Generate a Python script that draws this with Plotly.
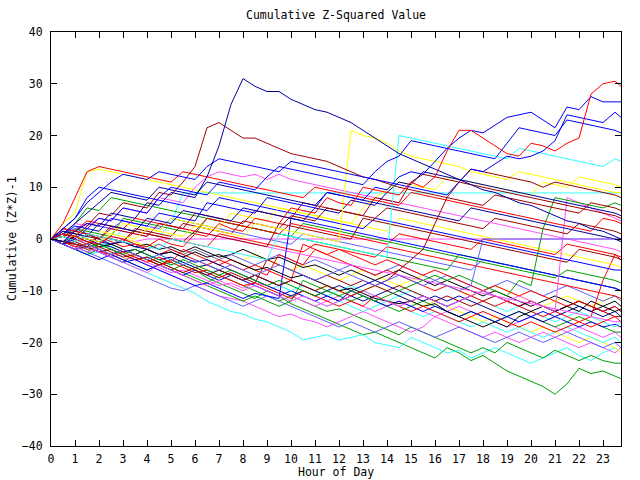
import plotly.graph_objects as go

# Hours of day (half-hour samples, last sample at 23:45)
HOURS = [i * 0.5 for i in range(48)] + [23.75]

R1 = [0,1,0.5,-0.5,-1,0.5,0,-1, -1.5,0,-1,-1.5,1,0.5,3,2, 1.5,4,3.5,3,6,5.5,5,8, 7,6.5,10,9.5,9,8.5,11,10, 12,17,21,21,19.5,18,16.5,16, 18.5,18,17,18.5,19.5,28,30,30.5, 29.5]
DB1 = [0,-0.5,1.5,3,2.5,5,4.5,4, 7,6.5,9,8.5,8,12,18,26, 31,29.5,28.5,28.5,27,26,25,24.5, 23.5,22.5,21,19.5,18,16.5,15.5,14.5, 13.5,12.5,11.5,10.5,9.5,9,8,7, 6.5,5.5,4.5,3.5,3,2,1.5,0.5, 0]
B1 = [0,1,2.5,2,1.5,4,3.5,3, 2.5,5,4.5,4,3.5,7,6.5,6, 5.5,5,8,7.5,7,6.5,6,9, 8.5,8,7.5,10,9.5,12,13,12.5, 15,17.5,19.5,21,20.5,22,23.5,24, 24.5,23,21.5,25.5,25,27.5,26.5,26.5, 26.5]
B2 = [0,-1,0,2,4,3.5,6,5.5, 5,8,10,9.5,9,8.5,11,10.5, 10,9.5,12,14,13.5,13,12.5,12, 11.5,11,10.5,13,15,16,19,18.5, 18,17.5,17,16.5,16,15.5,18.5,21.5, 21,20.5,20,23,22.5,22,21.5,21, 20.5]
B3 = [0,2,4,7,9,11,12.5,12, 11.5,13,12.5,12,11.5,14,15.5,15, 14.5,14,13.5,13,15,14.5,14,13.5, 13,12.5,12,11.5,11,10.5,10,9.5, 9,8.5,11,13.5,13,14.5,16,15.5, 16,17,19,24,23.5,23,22.5,24.5, 23.5]
R2 = [0,3,8,13,14,13.5,13,12.5, 12,11.5,11,13,12.5,12,11.5,11, 10.5,10,9.5,9,8.5,8,10,9.5, 9,8.5,8,7.5,7,6.5,9,8.5, 8,7.5,7,6.5,6,5.5,5,4.5, 4,3.5,3,2.5,2,1.5,4,3.5, 3]
DR1 = [0,1,0.5,2.5,5,4.5,7,6.5, 6,9,8.5,11,14,21.5,22.5,21, 19.5,19.5,18.5,17.5,16.5,16,15.5,15, 14,13,12,11.5,10.8,10,9.5,9, 8.5,8,7.5,7,6.5,8.5,8,7.5, 7,6.5,6,5.5,5,7,6.5,6, 5.5]
Y1 = [0,1,0.5,0,-0.5,1,0.5,0, 2,1.5,1,0.5,2.5,2,1.5,1, 0.5,3,2.5,2,1.5,1,0.5,0, -0.5,21,20,19.5,18.5,17,16,15.5, 15,14.5,14,13,12.5,12,11.5,13, 12.5,12,11.5,11,10.5,10,9.5,9, 9]
C1 = [0,-0.5,-1,0.5,0,-0.5,2,1.5, 1,0.5,3,8.9,8.9,8.9,8.9,8.9, 8.9,8.9,8.9,8.9,8.9,8.9,8.9,8.9, 8.9,8.9,8.9,8.9,8.9,8.9,8.9,8.9, 8.9,8.9,8.9,8.9,8.9,8.9,8.9,8.9, 8.9,8.9,8.9,8.9,8.9,8.9,8.9,8.9, 8.9]
M1 = [0,0.5,0,-0.5,-1,0.5,0,-0.5, 0,0,0,0,0,0,0,0, 0,0,0,0,0,0,0,0, 0,0,0,0,0,0,0,0, 0,0,0,0,0,0,0,0, 0,0,0,0,0,0,0,0, 0]
G1 = [0,-1,-2,-1.5,-2.5,-3.5,-4.5,-3, -4,-5,-6,-5,-6,-7.5,-8.5,-9.5, -10.5,-11.5,-10,-11,-12.5,-13.5,-14.5,-15.5, -16.5,-17.5,-18.5,-18,-19,-20,-21,-22, -23,-21,-22,-23.5,-22.5,-24,-25.5,-26.5, -27.5,-28.5,-30,-28,-25,-26,-25.5,-26.5, -27]
G2 = [0,-0.5,-1.5,-2.5,-1,-2,-3,-4, -3.5,-4.5,-5.5,-6.5,-7.5,-8.5,-7,-8, -9,-10,-11,-12,-11,-12,-13,-14, -13.5,-14.5,-15.5,-16.5,-17.5,-18.5,-17,-18, -19,-20,-21,-22,-21,-22,-20,-21, -22,-23,-21.5,-22.5,-23.5,-22.5,-23.5,-24, -24]
C2 = [0,-1,-2,-3,-2.5,-3.5,-4.5,-5.5, -6.5,-7.5,-8.5,-9.5,-10.5,-12,-13,-14, -14.5,-15.5,-16,-17,-18,-19.5,-19,-18.5, -19.5,-19,-18.5,-20,-20.5,-21,-19,-20, -21,-22,-21.5,-23,-22,-21,-22,-23, -24,-23,-22,-21,-22.5,-23.5,-22,-21, -22]
M2 = [0,-1,-0.5,-1.5,-2.5,-3.5,-3,-4, -5,-6,-7,-8,-9,-10,-11,-11.5, -12,-13,-14,-15,-14.5,-15.5,-16,-17, -16,-15,-14,-15,-16,-17,-18,-17, -15,-16,-17,-18,-19,-18,-19,-20, -19,-18,-19,-20,-21,-20,-21,-22, -21]
R3 = [0,-1,-2,-1.5,-2.5,-3,-2,-3, -4,-5,-4.5,-5.5,-6.5,-6,-7,-8, -9,-8.5,-9.5,-10.5,-11.5,-10,-11,-12, -13,-12,-13,-11,-12,-13,-14,-13, -14,-15,-16,-15,-14,-15,-16,-17, -16,-17,-18,-17,-16,-15,-8,-3, -4]
R4 = [0,2,1.5,3.5,3,2.5,2,4, 3.5,3,2.5,2,1.5,4,3.5,3, 2.5,2,1.5,1,3,2.5,2,1.5, 1,0.5,0,-0.5,-1,1,0.5,0, -0.5,-1,-1.5,-2,0,-0.5,-1,-1.5, -2,-2.5,-3,-1,-1.5,-2,-2.5,-3, -3.5]
R5 = [0,-0.5,-1.5,-1,-2,-3,-2.5,-3.5, -4.5,-3.5,-4.5,-2,-3,-4,-5,-4, -5,-6,-7,-3,-4,-5,-2,-3, -4,-5,-6,-7,-6,-7,-8,-9, -10,-9,-10,-11,-12,-13,-12,-13, -14,-15,-14,-15,-16,-17,-16,-15, -16]
R6 = [0,1,0,-1,0.5,-0.5,-1.5,-1, -2,-3,-2,-3,-4,-5,-4,-5, -6,-5,-6,-7,-8,-1,-2,-3, -2,-3,-4,-5,-4,-5,-6,-7, -6,-7,-8,-9,-10,-9,-10,-11, -10,-11,-12,-13,-12,-13,-14,-13, -14]
DR2 = [0,0.5,1.5,1,0,2,1.5,1, 0.5,3,2.5,2,5,4.5,4,3.5, 3,5.5,5,4.5,4,7,6.5,6, 5.5,5,4.5,4,6,5.5,5,4.5, 4,3.5,3,2.5,2,4,3.5,3, 2.5,2,1.5,1,3,2.5,2,1.5, 1]
DR3 = [0,-1,-0.5,-1.5,-2.5,-2,-3,-4, -3.5,-4.5,-5.5,-6.5,-5.5,-6.5,-7.5,-6.5, -7.5,-8.5,-4,-5,-6,-7,-8,-7, -8,-9,-8,-9,-10,-9,-10,-11, -12,-11,-12,-13,-12,-11,-12,-13, -12,-13,-14,-13,-12,-13,-14,-15, -15]
DR4 = [0,-0.5,-1,-2,-1.5,-2.5,-3.5,-3, -4,-5,-4,-5,-6,-7,-6,-7, -8,-7,-8,-9,-8,-9,-10,-9, -10,-11,-10,-9,-8,-6,-4,-2, 3,8,11,13.5,13,12.5,12,11.5, 11,10,11,10.5,10,9.5,9,8.5, 8]
DR5 = [0,1.5,1,0.5,0,2.5,2,1.5, 1,0.5,0,-0.5,1.5,1,0.5,0, -0.5,-1,-1.5,3,2.5,2,1.5,1, 0.5,0,4,3.5,3,2.5,2,1.5, 1,0.5,0,-0.5,-1,-1.5,-2,-2.5, -3,-3.5,-4,-4.5,-2,-2.5,-3,-3.5, -4]
G3 = [0,-0.5,-1,-1.5,-1,-2,-3,-2, -3,-4,-5,-4,-5,-6,-7,-6, -7,-8,-9,-8,-9,-10,-11,-10, -11,-10,-11,-12,-11,-10,-9,-8, -7,-8,-7,-8,-9,-10,-11,-8, -9,2,8,7.5,7,6.5,6,7, 6.5]
G4 = [0,1,3,6,5.5,8,7.5,7, 6.5,6,5.5,5,4.5,4,3.5,3, 2.5,2,1.5,1,0.5,3,2.5,2, 1.5,1,0.5,0,-0.5,-1,-1.5,-2, -2.5,-3,-3.5,-4,-4.5,-5,-5.5,-6, -6.5,-7,-7.5,-6,-6.5,-7,-7.5,-8, -8.5]
G5 = [0,-1,-2,-3,-2,-3,-4,-5, -6,-5,-6,-7,-8,-9,-10,-11, -12,-11,-12,-13,-12,-8,-9,-10, -11,-12,-11,-12,-13,-14,-13,-12, -13,-14,-15,-14,-15,-16,-15,-14, -15,-16,-17,-16,-15,-16,-17,-18, -18]
B4 = [0,2,4,8,10,9.5,9,8.5, 8,7.5,7,6.5,6,5.5,8,7.5, 7,6.5,6,5.5,5,4.5,4,3.5, 3,2.5,2,4,3.5,3,2.5,2, 1.5,1,0.5,0,-0.5,-1,-1.5,-2, -2.5,-3,-3.5,-4,-4.5,-5,-5.5,-6, -6]
B5 = [0,-1,-2,-1.5,-2.5,-3.5,-4.5,-4, -5,-6,-7,-8,-9,-8.5,-9.5,-10.5, -11.5,-10.5,-11,-11.5,4,3.5,3,2.5, 2,1.5,1,0.5,0,-0.5,-1,-1.5, -2,-2.5,-3,-3.5,-4,-4.5,-5,-5.5, -6,-6.5,-7,-7.5,-8,-8.5,-9,-9.5, -10]
B6 = [0,-1,-2,-3,-4,-3,-4,-5, -6,-5,-6,-7,-6,-7,-8,-7, -8,-9,-10,-11,-10,-11,-12,-11, -12,-10,-11,-12,-13,-12,-13,-14, -13,-14,-15,-14,-15,-16,-15,-16, -15,-14,-15,-16,-17,-16,-17,-16.5, -17]
DB2 = [0,1,0.5,0,-0.5,-1,-0.5,-1.5, -2,-3,-2.5,-3.5,-4.5,-4,-5,-6, -7,-8,-9,-10,-11,-10,-11,-10, -9,-10,-9,-8,-9,-10,-11,-12, -11,-12,-11,-12,-13,-14,-15,-14, -15,-16,-15,-14,-13,-14,-15,-14, -15]
DB3 = [0,1,3,5,7,9,8.5,8, 7.5,10,9.5,9,8.5,11,10.5,10, 9.5,9,8.5,8,7.5,7,6.5,9, 8.5,8,7.5,7,6.5,6,5.5,5, 4.5,4,3.5,6,5.5,5,4.5,4, 3.5,3,2.5,2,1.5,1,0.5,0, -0.5]
DB4 = [0,-0.5,0.5,0,-1,-1.5,-2.5,-2, -3,-4,-3.5,-4.5,-5.5,-5,-6,-7, -8,-7,-8,-9,-8,-9,-10,-11, -12,-11,-12,-11,-10,-11,-12,-11, -12,-13,-12,-11,-10,-11,-12,-13, -12,-13,-14,-13,-12,-13,-14,-13, -14]
DB5 = [0,1.5,1,0.5,3,2.5,2,1.5, 4,3.5,3,5.5,5,4.5,4,3.5, 6,5.5,5,4.5,4,3.5,6,5.5, 5,7.5,7,6.5,9,11,10.5,13, 12.5,12,11.5,11,10.5,10,9.5,9, 8.5,8,7.5,7,6.5,6,5.5,5, 4.5]
LB1 = [0,-1,-2,-1,-2,-3,-2,-3, -4,-3,-4,-5,-4,-5,-6,-5, -6,-7,-6,-5,-6,-7,-8,-7, -6,-7,-8,-9,-8,-7,-8,-9, -8,-9,-10,-9,0,0,0,0, 0,0,0,0,0,0,0,0, 0]
LB2 = [0,1,2,1,0,-1,0,-1, -2,-1,-2,-3,-2,-3,-4,-3, -4,-5,-4,-3,-4,-5,-4,-5, -6,-5,-6,-7,-6,-5,-6,-7, -8,-7,-8,-9,-10,-9,-8,-9, -10,-11,-10,-9,-10,-11,-12,-11, -12]
LB3 = [0,-0.5,-1.5,-2.5,-3.5,-4.5,-5.5,-6.5, -7.5,-8.5,-9.5,-10,-9,-10,-11,-12, -13,-12,-11,-12,-13,-14,-15,-16, -17,-16,-17,-18,-17,-16,-17,-18, -19,-18,-17,-18,-19,-20,-19,-18, -19,-20,-19,-18,-19,-20,-21,-20, -21]
LB4 = [0,1,2,3,2.5,2,3.5,3, 2.5,2,4,3.5,3,2.5,2,1.5, 1,0.5,0,-0.5,-1,1,0.5,0, -0.5,-1,-1.5,-2,-2.5,-3,-3.5,-4, -4.5,-5,-5.5,-6,-4,-4.5,-5,-5.5, -6,-6.5,-7,-7.5,-8,-8.5,-9,-9.5, -10]
M3 = [0,2,1.5,3,2.5,2,1.5,1, 0.5,3,2.5,2,1.5,1,0.5,0, -0.5,-1,-1.5,-2,-2.5,-3,-3.5,-4, -4.5,-5,-5.5,-6,-6.5,-7,-7.5,-8, -8.5,-9,-9.5,-10,-10.5,-11,-11.5,-12, -12.5,-13,-13.5,-14,-14.5,-15,-15.5,-16, -16]
M4 = [0,1,3,2.5,4,3.5,6,5.5, 5,8,7.5,7,10,12,13,12.5, 12,12.5,11.5,12.5,11.5,11,10.5,10, 9.5,9,8.5,8,7.5,7,6.5,6, 5.5,5,4.5,4,3.5,3,2.5,2, 1.5,1,0.5,0,-0.5,-1,-1.5,-2, -2.5]
M5 = [0,-1,-2,-1.5,-2.5,-3.5,-4.5,-5.5, -6.5,-5,-6,-7,-8,-9,-8,-9, -10,-9,-10,-11,-12,-11,-12,-13, -12,-11,-10,-11,-12,-13,-12,-11, -12,-13,-12,-11,-10,-11,-12,-11, -12,-13,-14,8,7,6,5,4, 3.5]
M6 = [0,-0.5,-1.5,-2.5,-2,-3,-4,-3.5, -4.5,-5.5,-6.5,-6,-7,-8,-9,-8.5, -9.5,-8.5,-9,-10,-11,-12,-13,-12, -11,-12,-13,-14,-13,-12,-13,-14, -15,-14,-13,-14,-15,-16,-17,-16, -15,-16,-17,-18,-17,-18,-19,-18, -19]
C3 = [0,-1,0,-1,-2,-1,-2,-3, -4,-3,-4,-5,-6,-7,-6,-7, -8,-9,-10,-9,-10,-11,-12,-13, -12,-13,-14,-13,-12,-13,-14,-15, -14,-15,-16,-17,-16,-17,-18,-17, -18,-19,-18,-17,-18,-19,-20,-19, -20]
C4 = [0,0.5,-0.5,1,0.5,0,-0.5,-1, -1.5,-2,0,-0.5,-1,-1.5,-2,-2.5, -3,-3.5,-4,1,0.5,0,-0.5,-1, -1.5,-2,-2.5,-3,-3.5,20,19.5,19, 18.5,18,17.5,17,16.5,16,15.5,17.5, 17,16.5,16,15.5,15,14.5,14,15.5, 15]
C5 = [0,1,0,-1,-0.5,-1.5,-2.5,-2, -3,-4,-5,-4.5,-5.5,-6.5,-6,-7, -8,-7,-8,-9,-10,-9,-10,-11, -10,-9,-10,-11,-12,-11,-10,-11, -12,-13,-12,-11,-12,-13,-14,-13, -14,-15,-16,-15,-14,-15,-16,-17, -16]
Y2 = [0,3,5,13,13.5,13,12.5,12, 11.5,11,10.5,10,9.5,9,8.5,8, 7.5,7,6.5,6,5.5,5,4.5,4, 3.5,3,2.5,2,1.5,4,3.5,3, 2.5,2,1.5,1,0.5,0,-0.5,-1, -1.5,-2,-2.5,-3,-3.5,-4,-4.5,-5, -5.5]
Y3 = [0,-1,-2,-1,-2,-3,-4,-3, -4,-5,-4,-5,-6,-5,-6,-7, -8,-7,-8,-9,-8,-9,-10,-9, -10,-11,-10,-9,-10,-11,-12,-13, -12,-13,-14,-15,-16,-15,-16,-17, -18,-17,-18,-19,-20,-19,-20,-21, -22]
Y4 = [0,1,0.5,2,1.5,1,3,2.5, 2,1.5,4,3.5,3,2.5,2,5, 4.5,4,3.5,6,5.5,5,4.5,4, 3.5,3,6,8,9.5,11,10.5,10, 9.5,12,11.5,11,10.5,10,9.5,9, 8.5,11,10.5,10,12,11.5,11,10.5, 10]
Y5 = [0,0.5,-0.5,1,0,-1,0,-0.5, -1.5,-1,-2,-3,-2,-3,-4,-3, -4,-3,-4,-5,-6,-5,-6,-7, -8,-7,-6,-7,-8,-9,-8,-7, -8,-9,-10,-11,-10,-9,-10,-11, -12,-13,-12,-11,-12,-13,-12,-11, -12]
K1 = [0,-1,0.5,-0.5,-1.5,-1,-2,-3, -2,-3,-2.5,-3.5,-2.5,-3.5,-3,-4, -5,-6,-5.5,-6.5,-7.5,-7,-8,-9, -10,-9.5,-10.5,-11.5,-12,-12.5,-12,-13, -12.5,-14,-15,-16,-17,-16,-17,-15, -14,-13,-14,-13,-14,-12,-13,-14, -13.5]
K2 = [0,0.5,-0.5,1,0,-1,-0.5,-1.5, -1,-2,-1.5,-2.5,-1.5,-2.5,-3.5,-3, -2,-3,-4,-3.5,-4.5,-5.5,-5,-6, -7,-6,-7,-8,-7,-6,-7,-8, -9,-8,-9,-10,-11,-10,-11,-12, -13,-12,-11,-12,-13,-14,-13,-12, -13]
DR6 = [0,-0.5,-1,-1.5,0.5,0,-0.5,2, 1.5,1,0.5,3,2.5,2,1.5,1, 3.5,3,2.5,2,4.5,4,3.5,6, 5.5,5,4.5,8,7.5,7,11,12.5, 12,11.5,11,10.5,10,9.5,9,8.5, 8,7.5,7,6.5,6,5.5,5,4.5, 4]
R7 = [0,2,1.5,1,0.5,0,-0.5,1.5, 1,0.5,0,-0.5,-1,-1.5,1,0.5, 0,-0.5,-1,-1.5,-2,-2.5,-1,-1.5, -2,-2.5,-3,-3.5,-1.5,-2,-2.5,-3, -3.5,-4,-4.5,-5,-5.5,-6,-6.5,-7, -7.5,-8,-8.5,-9,-9.5,-10,-10.5,-11, -11.5]
G6 = [0,0.5,2,1.5,1,0.5,4,3.5, 3,2.5,2,1.5,1,4,3.5,3, 2.5,2,1.5,1,0.5,0,-0.5,-1, -1.5,-2,-2.5,-3,-3.5,-4,-4.5,-5, -5.5,-6,-3,-3.5,-4,-4.5,-5,-5.5, -6,-6.5,-7,-7.5,-8,-8.5,-9,-9.5, -10]

RED, DRED, GREEN, BLUE, DBLUE, LBLUE = "#ff0000", "#a00000", "#00a000", "#0000ff", "#0000a0", "#6060ff"
MAG, CYAN, YEL, BLK = "#ff50ff", "#30ffff", "#ffff00", "#000000"

SERIES = [
    (C1, CYAN), (M1, MAG), (G1, GREEN), (C2, CYAN), (G2, GREEN), (M2, MAG),
    (Y3, YEL), (LB3, LBLUE), (C3, CYAN), (M6, MAG), (G5, GREEN), (B6, BLUE),
    (C5, CYAN), (DB4, DBLUE), (Y5, YEL), (DR3, DRED), (K2, BLK), (LB2, LBLUE),
    (R5, RED), (R6, RED), (DB2, DBLUE), (K1, BLK), (R3, RED), (M3, MAG),
    (R7, RED), (G6, GREEN), (LB4, LBLUE), (B5, BLUE), (G4, GREEN), (Y2, YEL),
    (DR5, DRED), (R4, RED), (M5, MAG), (B4, BLUE), (DR2, DRED), (M4, MAG),
    (G3, GREEN), (Y4, YEL), (DR6, DRED), (DB5, DBLUE), (DB3, DBLUE), (Y1, YEL),
    (DR4, DRED), (C4, CYAN), (R2, RED), (DR1, DRED), (B3, BLUE), (B2, BLUE),
    (B1, BLUE), (LB1, LBLUE), (R1, RED), (DB1, DBLUE),
]

fig = go.Figure()
for vals, col in SERIES:
    n = min(len(vals), len(HOURS))
    fig.add_trace(go.Scatter(x=HOURS[:n], y=vals[:n], mode="lines",
                             line=dict(color=col, width=1), showlegend=False,
                             hoverinfo="skip"))

FONT = "DejaVu Sans Mono"
fig.update_layout(
    width=640, height=480,
    margin=dict(l=51, r=19, t=32, b=34),
    paper_bgcolor="white", plot_bgcolor="white",
    font=dict(family=FONT, size=11, color="black"),
    showlegend=False,
    annotations=[
        dict(text="Cumulative Z-Squared Value", xref="paper", yref="paper",
             x=0.5, y=1 + 17 / 414, xanchor="center", yanchor="middle",
             showarrow=False, font=dict(family=FONT, size=11.5)),
        dict(text="Hour of Day", xref="paper", yref="paper",
             x=0.5, y=-26 / 414, xanchor="center", yanchor="middle",
             showarrow=False, font=dict(family=FONT, size=11.5)),
        dict(text="Cumulative (Z*Z)-1", xref="paper", yref="paper",
             x=-39 / 570, y=0.5, xanchor="center", yanchor="middle",
             textangle=-90, showarrow=False, font=dict(family=FONT, size=11.5)),
    ],
)
fig.update_xaxes(range=[0, 23.75], tickvals=list(range(24)),
                 ticks="inside", ticklen=6, tickcolor="black",
                 showline=True, linecolor="black", linewidth=1, mirror="ticks",
                 showgrid=False, zeroline=False, ticklabelstandoff=2,
                 tickfont=dict(family=FONT, size=11.5))
fig.update_yaxes(range=[-40, 40], tickvals=list(range(-40, 41, 10)),
                 ticks="inside", ticklen=6, tickcolor="black",
                 showline=True, linecolor="black", linewidth=1, mirror="ticks",
                 showgrid=False, zeroline=False, ticklabelstandoff=5,
                 tickfont=dict(family=FONT, size=11.5))

fig.write_html("out.html", config={"displayModeBar": False},
               post_script="document.body.style.margin='0px';document.body.style.padding='0px';")
